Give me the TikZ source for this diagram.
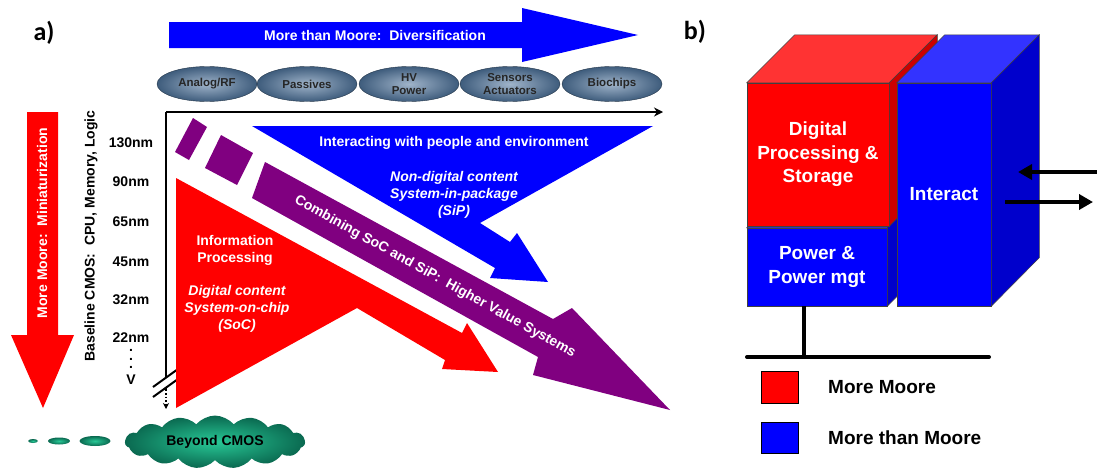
\documentclass[tikz,border=0pt]{standalone}
\usepackage{fontspec}
\setmainfont{Liberation Sans}
\newfontfamily\calib{Carlito}
\usetikzlibrary{arrows,arrows.meta,shapes,calc}

\definecolor{mmred}{RGB}{255,0,0}
\definecolor{redtop}{RGB}{255,51,51}
\definecolor{redside}{RGB}{204,0,0}
\definecolor{mtmblue}{RGB}{0,0,255}
\definecolor{bluetop}{RGB}{51,51,255}
\definecolor{blueside}{RGB}{0,0,204}
\definecolor{sipurple}{RGB}{128,0,128}
\definecolor{chipin}{RGB}{160,180,202}
\definecolor{chipout}{RGB}{62,92,124}
\definecolor{cloudin}{RGB}{40,200,150}
\definecolor{cloudout}{RGB}{10,105,80}

\tikzset{
	txt/.style={font=\fontsize{14}{17}\selectfont\bfseries, inner sep=0pt},
	wtxt/.style={txt, text=white, align=center},
	witxt/.style={font=\fontsize{14}{17}\selectfont\bfseries\itshape, text=white, align=center, inner sep=0pt},
	chip/.style={ellipse, minimum width=100pt, minimum height=35pt, inner sep=0pt, inner color=chipin, outer color=chipout, draw=chipout!60!black, align=center, font=\fontsize{11.5}{13.5}\selectfont\bfseries, text=black!85},
	puff/.style={ellipse, inner sep=0pt, inner color=cloudin, outer color=cloudout},
	big/.style={font=\fontsize{19}{23.5}\selectfont\bfseries, align=center},
	face/.style={draw=black!75, line width=0.5pt},
	hdr/.style={font=\fontsize{26}{30}\selectfont\calib\bfseries, inner sep=0pt},
	axis/.style={line width=2.5pt, >={Stealth[length=9pt,width=9pt]}},
	thickarrow/.style={line width=4.5pt, >={Triangle[length=14pt,width=15pt]}}
}

\begin{document}
\begin{tikzpicture}[x=1pt,y=-1pt]
	\useasboundingbox (0,0) rectangle (1097,471);

	\path (44,33) node[hdr] (lbla) {a)}
		(695,32) node[hdr] (lblb) {b)};

	\fill[mtmblue] (169,22) -- (522,22) -- (522,8) -- (638,35) -- (522,62) -- (522,48) -- (169,48) -- cycle;
	\path (375,35) node[wtxt] (diversif) {More than Moore:~~Diversification};

	\path (207,84) node[chip] (analog) {Analog/RF}
		(307,84) node[chip] (passives) {Passives}
		(409,84) node[chip] (hvpower) {HV\\Power}
		(510,84) node[chip] (sensors) {Sensors\\Actuators}
		(612,84) node[chip] (biochips) {Biochips};

	\coordinate (origin) at (166,112);
	\coordinate (xend) at (663,112);
	\coordinate (ybreak) at (166,391);
	\coordinate (ydots) at (166,393);
	\coordinate (yend) at (166,409);
	\draw[axis, ->] (origin) -- (xend);
	\draw[axis] (origin) -- (ybreak);
	\fill[white] (153,387) -- (178,369) -- (178,379) -- (153,397) -- cycle;
	\draw[line width=2pt] (153,387) -- (178,369);
	\draw[line width=2pt] (153,397) -- (178,379);
	\draw[line width=1.5pt, dotted, ->, >={Stealth[length=6pt,width=6pt]}] (ydots) -- (yend);

	\fill[mtmblue] (252,126) -- (653,126) -- (480,223) -- (510,242) -- (517,233) -- (548,282) -- (490,278) -- (495,268) -- cycle;
	\fill[sipurple] (175,152) -- (193,118) -- (207,127) -- (189,160) -- cycle;
	\fill[sipurple] (205,168) -- (221,135) -- (253,153) -- (237,185) -- cycle;
	\fill[sipurple] (265,162) -- (553,319) -- (572,308) -- (670,410) -- (533,375) -- (538,357) -- (252,198) -- cycle;
	\fill[mmred] (176,178) -- (462,333) -- (467,323) -- (498,372) -- (442,369) -- (445,360) -- (357,308) -- (176,408) -- cycle;

	\path (454,143) node[wtxt] (interacting) {Interacting with people and environment}
		(454,195) node[witxt] (sip) {Non-digital content\\System-in-package\\(SiP)}
		(235,250.5) node[wtxt] (infoproc) {Information\\Processing}
		(237,309) node[witxt] (soc) {Digital content\\System-on-chip\\(SoC)}
		(435,277) node[wtxt, rotate=-29] (combining) {Combining SoC and SiP:~~Higher Value Systems};

	\fill[mmred] (27,112) -- (58,112) -- (58,335) -- (74,335) -- (43,408) -- (11,335) -- (27,335) -- cycle;
	\path (42,223) node[wtxt, rotate=90] (moremoore) {More Moore:~~Miniaturization}
		(91,236) node[txt, rotate=90] (baseline) {Baseline CMOS:~~CPU, Memory, Logic};

	\path (131,143) node[txt] (nm130) {130nm}
		(131,182) node[txt] (nm90) {90nm}
		(131,222) node[txt] (nm65) {65nm}
		(131,262) node[txt] (nm45) {45nm}
		(131,300) node[txt] (nm32) {32nm}
		(131,338) node[txt] (nm22) {22nm}
		(131,359) node[txt, align=center, font=\fontsize{14}{8.5}\selectfont\bfseries] (nmdots) {.\\.\\.}
		(131,380) node[txt] (nmv) {V};

	\path (33,441) node[puff, minimum width=10pt, minimum height=4pt] (puffa) {}
		(59,441) node[puff, minimum width=22pt, minimum height=7pt] (puffb) {}
		(95,441) node[puff, minimum width=31pt, minimum height=10pt] (puffc) {}
		(215,442) node[cloud, cloud puffs=15, cloud puff arc=100, aspect=3.4, minimum width=180pt, minimum height=49pt, inner sep=0pt, inner color=cloudin, outer color=cloudout, txt] (beyond) {Beyond CMOS};

	\path (817,267) node[rectangle, fill=mtmblue, face, minimum width=140pt, minimum height=78pt, big, text=white] (pwr) {Power \&\\Power mgt};
	\filldraw[face, fill=bluetop] (pwr.north west) -- ++(48,-48) -- ($(pwr.north east)+(48,-48)$) -- (pwr.north east) -- cycle;
	\filldraw[face, fill=blueside] (pwr.north east) -- ++(48,-48) -- ++(0,78) -- (pwr.south east) -- cycle;

	\path (818,154.5) node[rectangle, fill=mmred, face, minimum width=142pt, minimum height=143pt, big, text=white] (dps) {Digital\\Processing \&\\Storage};
	\filldraw[face, fill=redtop] (dps.north west) -- ++(48,-48) -- ($(dps.north east)+(48,-48)$) -- (dps.north east) -- cycle;
	\filldraw[face, fill=redside] (dps.north east) -- ++(48,-48) -- ++(0,143) -- (dps.south east) -- cycle;

	\path (944,194.5) node[rectangle, fill=mtmblue, face, minimum width=94pt, minimum height=223pt, big, text=white] (act) {Interact};
	\filldraw[face, fill=bluetop] (act.north west) -- ++(48,-48) -- ($(act.north east)+(48,-48)$) -- (act.north east) -- cycle;
	\filldraw[face, fill=blueside] (act.north east) -- ++(48,-48) -- ++(0,223) -- (act.south east) -- cycle;

	\coordinate (inStart) at (1097,172);
	\coordinate (inEnd) at (1018,172);
	\coordinate (outStart) at (1005,202);
	\coordinate (outEnd) at (1093,202);
	\draw[thickarrow, ->] (inStart) -- (inEnd);
	\draw[thickarrow, ->] (outStart) -- (outEnd);

	\coordinate (busL) at (747,357);
	\coordinate (busR) at (989,357);
	\coordinate (tap) at (804,357);
	\draw[line width=4pt, line cap=round] (busL) -- (busR);
	\draw[line width=4pt] (tap) -- (tap |- pwr.south);

	\path (779.5,387) node[rectangle, fill=mmred, draw, minimum width=37pt, minimum height=32pt] (lgred) {}
		(779.5,438) node[rectangle, fill=mtmblue, draw, minimum width=37pt, minimum height=31pt] (lgblue) {}
		(828,387) node[big, anchor=west, inner sep=0pt] (lgredtxt) {More Moore}
		(828,438) node[big, anchor=west, inner sep=0pt] (lgbluetxt) {More than Moore};
\end{tikzpicture}
\end{document}
